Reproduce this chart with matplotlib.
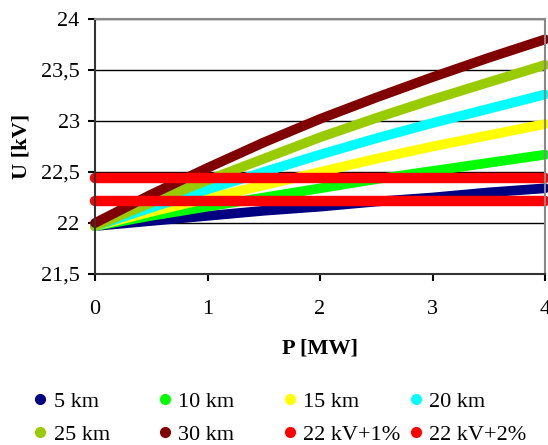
import numpy as np
import matplotlib.pyplot as plt
from matplotlib.ticker import FuncFormatter

plt.rcParams['font.family'] = ['Liberation Serif', 'DejaVu Serif']

P = [0, 0.5, 1, 1.5, 2, 2.5, 3, 3.5, 4]
nazwy = ["5 km", "10 km", "15 km", "20 km", "25 km", "30 km"]
kolory = ["#000080", "#00ff00", "#ffff00", "#00ffff", "#99cc00", "#800000"]
U = [
    [21.97, 22.02, 22.07, 22.12, 22.16, 22.21, 22.25, 22.30, 22.34],
    [21.97, 22.07, 22.16, 22.25, 22.34, 22.43, 22.51, 22.59, 22.67],
    [21.97, 22.11, 22.24, 22.37, 22.50, 22.63, 22.75, 22.86, 22.97],
    [21.97, 22.15, 22.33, 22.50, 22.67, 22.83, 22.98, 23.12, 23.26],
    [21.97, 22.20, 22.42, 22.63, 22.84, 23.03, 23.21, 23.38, 23.55],
    [22.00, 22.28, 22.54, 22.79, 23.02, 23.23, 23.43, 23.62, 23.80],
]
granice = ["22 kV+1%", "22 kV+2%"]
U_gr = [22.44, 22.22]

fig = plt.figure(figsize=(5.48, 4.45), dpi=100)
ax = fig.add_axes([95/548, 1-274/445, 450/548, 255/445])

for i in range(len(nazwy)):
    ax.plot(P, U[i], color=kolory[i], lw=7, solid_capstyle='round', label=nazwy[i])
for i in range(len(granice)):
    ax.plot([P[0], P[-1]], [U_gr[i]] * 2, color="#ff0000", lw=7.5, solid_capstyle='round', label=granice[i])

ax.set_xlim(0, 4)
ax.set_ylim(21.5, 24)
ax.set_xticks([0, 1, 2, 3, 4])
ax.set_yticks([21.5, 22, 22.5, 23, 23.5, 24])
ax.yaxis.set_major_formatter(FuncFormatter(lambda v, p: ("%g" % v).replace(".", ",")))
ax.grid(axis='y', color='black', lw=1)
ax.set_axisbelow(True)
ax.tick_params(labelsize=16, direction='out', length=5, width=1.5)
ax.tick_params(axis='x', pad=14)
ax.tick_params(axis='y', pad=6)
for s in ['left', 'bottom']:
    ax.spines[s].set_linewidth(1.5)
    ax.spines[s].set_color('#333333')
for s in ['top', 'right']:
    ax.spines[s].set_color('#888888')
    ax.spines[s].set_linewidth(1.5)
for line in ax.lines:
    line.set_clip_on(False)

ax.set_xlabel("P [MW]", fontsize=16, fontweight='bold', labelpad=14)
ax.set_ylabel("U [kV]", fontsize=16, fontweight='bold', labelpad=7)

# legenda: 4 kolumny po 2 wpisy, każda kolumna osobno
wszystkie_kolory = kolory + ["#ff0000", "#ff0000"]
etykiety = nazwy + granice
kolumny = [[0, 4], [1, 5], [2, 6], [3, 7]]
x_kol = [33.5, 158.3, 283.3, 409.3]
for k in range(4):
    uch = [plt.Line2D([], [], ls='', marker='o', ms=7, color=wszystkie_kolory[i]) for i in kolumny[k]]
    fig.legend(uch, [etykiety[i] for i in kolumny[k]], loc='center left',
               bbox_to_anchor=(x_kol[k] / 548, 1 - 418 / 445), frameon=False, fontsize=16,
               borderpad=0, borderaxespad=0, handlelength=0.6, handletextpad=0.3,
               labelspacing=0.55)

fig.savefig("out.png", dpi=100)
